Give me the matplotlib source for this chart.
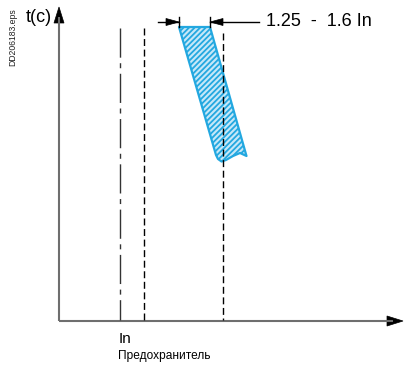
import numpy as np
import matplotlib.pyplot as plt
from matplotlib.patches import Polygon

plt.rcParams['font.family'] = ['Liberation Sans', 'DejaVu Sans']
plt.rcParams['hatch.linewidth'] = 1.3

# schematic geometry, in pixels of the 407x367 picture (y grows downward)
origin = (59, 321)
y_axis_top = 7
x_axis_right = 403

# vertical guide lines: In (dash-dot), fuse, upper limit of band
guide_x = [120, 144, 223]
guide_top = [28, 28, 33]
guide_style = ['dashdot', 'dashed', 'dashed']

# tripping band (1.25 - 1.6 In), outline points
band_x = [179, 210, 246.5, 240, 233, 226, 221.5, 218, 216]
band_y = [27, 27, 156, 153, 156, 160, 161.5, 159, 155]

# dimension marks above the band
dim_y = 22
dim_left = [158, 179]
dim_right = [210, 259]

labels = {
    'ylab': 't(c)',
    'range': '1.25  -  1.6 In',
    'xlab': 'In',
    'sub': 'Предохранитель',
    'file': 'DD206183.eps',
}

axis_col = '#6e6e6e'
band_edge = '#23a8e0'
band_face = '#c6e8f8'


def head(ax, tip, d, length, half, color='black'):
    tip = np.array(tip, float)
    d = np.array(d, float) / np.hypot(*d)
    n = np.array([-d[1], d[0]])
    base = tip - d * length
    pts = [tip, base + n * half, base - n * half]
    ax.add_patch(Polygon(pts, closed=True, facecolor=color, edgecolor=color, lw=0.5))


fig = plt.figure(figsize=(4.07, 3.67), dpi=100)
ax = fig.add_axes([0, 0, 1, 1])
ax.set_xlim(0, 407)
ax.set_ylim(367, 0)
ax.axis('off')

# axes with arrows
ax.plot([origin[0], origin[0]], [origin[1], y_axis_top + 10], color=axis_col, lw=1.5,
        solid_capstyle='butt')
ax.plot([origin[0], x_axis_right - 10], [origin[1], origin[1]], color=axis_col, lw=1.5,
        solid_capstyle='butt')
head(ax, (origin[0], y_axis_top), (0, -1), 16, 5)
head(ax, (x_axis_right, origin[1]), (1, 0), 16, 5)

# guide lines
for gx, gt, st in zip(guide_x, guide_top, guide_style):
    ln, = ax.plot([gx, gx], [gt, origin[1] - 1], color='black', lw=1.0)
    if st == 'dashdot':
        ln.set_color('#333333')
        ln.set_dashes([21, 4, 3.6, 4])
    else:
        ln.set_dashes([5, 2.6])

# band
band = Polygon(list(zip(band_x, band_y)), closed=True, facecolor=band_face,
               edgecolor=band_edge, lw=1.6, hatch='//////', joinstyle='round')
ax.add_patch(band)

# dimension arrows
ax.plot(dim_left, [dim_y, dim_y], color='black', lw=1.0)
ax.plot(dim_right, [dim_y, dim_y], color='black', lw=1.0)
for tx in [dim_left[1], dim_right[0]]:
    ax.plot([tx, tx], [dim_y - 5, dim_y + 5], color='black', lw=1.0)
head(ax, (dim_left[1], dim_y), (1, 0), 13, 3.5)
head(ax, (dim_right[0], dim_y), (-1, 0), 13, 3.5)

# texts
ax.text(26, 22.5, labels['ylab'], fontsize=13, ha='left', va='baseline')
ax.text(265.5, 26.5, labels['range'], fontsize=13, ha='left', va='baseline')
ax.text(118.6, 343, labels['xlab'], fontsize=11, ha='left', va='baseline')
ax.text(118, 359.5, labels['sub'], fontsize=8.6, ha='left', va='baseline')
ax.text(12.5, 37.5, labels['file'], fontsize=6.2, rotation=90, ha='center', va='center',
        color='#222222')

fig.savefig('out.png', dpi=100)
